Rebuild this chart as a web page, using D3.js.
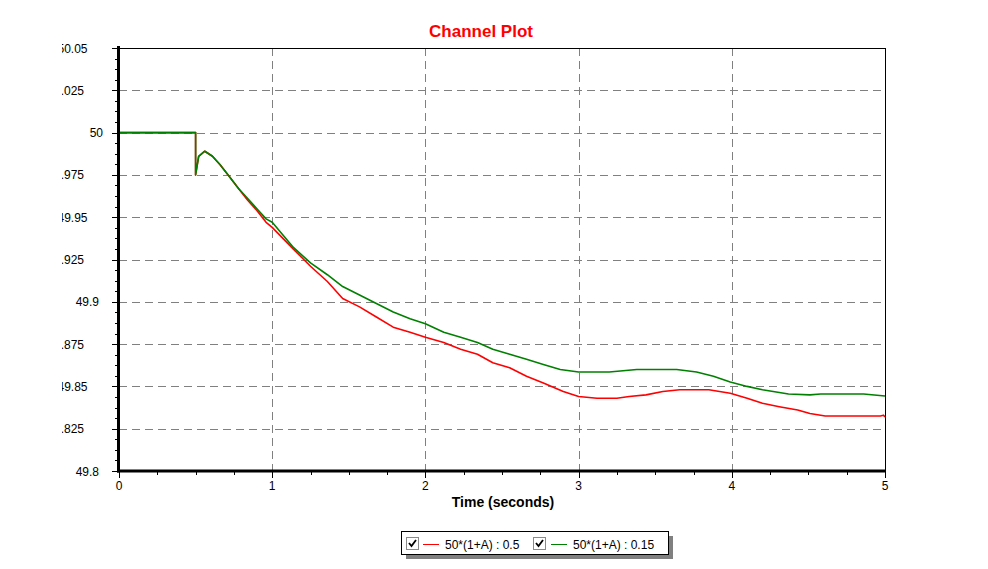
<!DOCTYPE html>
<html><head><meta charset="utf-8">
<script src="https://cdn.jsdelivr.net/npm/d3@7"></script>
<style>body{margin:0;background:#fff}svg{display:block;font-family:Arial,"Liberation Sans",sans-serif}</style>
</head><body>
<svg id="c" width="988" height="569"></svg>
<script>
const chartTitle = "Channel Plot";
const xAxisTitle = "Time (seconds)";
const seriesNames = ["50*(1+A) : 0.5", "50*(1+A) : 0.15"];
const seriesColors = ["#ff0000", "#008000"];

const redTime  = [0, 0.5, 0.5, 0.52, 0.56, 0.61, 0.66, 0.72, 0.78, 0.84, 0.90, 0.96, 1.0, 1.14, 1.25, 1.36, 1.46, 1.57, 1.68, 1.79, 1.90, 2.0, 2.12, 2.23, 2.34, 2.44, 2.55, 2.66, 2.77, 2.9, 3.0, 3.12, 3.25, 3.33, 3.44, 3.55, 3.66, 3.85, 3.99, 4.1, 4.2, 4.31, 4.43, 4.51, 4.61, 4.97, 4.99, 5.0];
const redValue = [50, 50, 49.975, 49.986, 49.989, 49.986, 49.981, 49.974, 49.967, 49.960, 49.954, 49.947, 49.944, 49.931, 49.921, 49.912, 49.902, 49.897, 49.891, 49.885, 49.882, 49.879, 49.876, 49.872, 49.869, 49.864, 49.861, 49.856, 49.852, 49.847, 49.844, 49.843, 49.843, 49.844, 49.845, 49.847, 49.848, 49.848, 49.846, 49.843, 49.840, 49.838, 49.836, 49.834, 49.8325, 49.8325, 49.833, 49.832];

const greenTime  = [0, 0.5, 0.5, 0.52, 0.56, 0.61, 0.66, 0.72, 0.78, 0.84, 0.90, 0.96, 1.0, 1.14, 1.25, 1.36, 1.46, 1.57, 1.68, 1.79, 1.90, 2.0, 2.12, 2.23, 2.34, 2.44, 2.55, 2.66, 2.77, 2.88, 3.0, 3.2, 3.38, 3.64, 3.77, 3.88, 3.99, 4.1, 4.2, 4.37, 4.51, 4.58, 4.86, 5.0];
const greenValue = [50, 50, 49.975, 49.986, 49.989, 49.986, 49.981, 49.974, 49.967, 49.961, 49.955, 49.949, 49.947, 49.932, 49.923, 49.916, 49.909, 49.904, 49.899, 49.894, 49.890, 49.887, 49.882, 49.879, 49.876, 49.872, 49.869, 49.866, 49.863, 49.860, 49.8585, 49.8585, 49.860, 49.860, 49.8585, 49.856, 49.8526, 49.850, 49.848, 49.8455, 49.845, 49.8455, 49.8455, 49.8443];

const xTicks = [0, 1, 2, 3, 4, 5];
const xGrid = [1, 2, 3, 4];
const yTicks = [49.8, 49.825, 49.85, 49.875, 49.9, 49.925, 49.95, 49.975, 50, 50.025, 50.05];
const yGrid = [49.825, 49.85, 49.875, 49.9, 49.925, 49.95, 49.975, 50, 50.025];

const svg = d3.select("#c");
const L = 119, R = 885, T = 48, B = 471;
const x = d3.scaleLinear().domain([0, 5]).range([L, R]);
const y = d3.scaleLinear().domain([49.8, 50.05]).range([B, T]);

// title
svg.append("text").attr("x", 481).attr("y", 37).attr("text-anchor", "middle")
  .attr("fill", "#ff0000").attr("font-weight", "bold").attr("font-size", 17).text(chartTitle);

// grid
svg.append("g").selectAll("line").data(xGrid).join("line")
  .attr("x1", d => Math.round(x(d)) + 0.5).attr("x2", d => Math.round(x(d)) + 0.5)
  .attr("y1", T).attr("y2", B).attr("stroke", "#808080").attr("stroke-dasharray", "8,5");
svg.append("g").selectAll("line").data(yGrid).join("line")
  .attr("y1", d => Math.round(y(d)) + 0.5).attr("y2", d => Math.round(y(d)) + 0.5)
  .attr("x1", L).attr("x2", R).attr("stroke", "#808080").attr("stroke-dasharray", "8,5");

// frame
svg.append("line").attr("x1", L).attr("x2", R + 0.5).attr("y1", T + 0.5).attr("y2", T + 0.5).attr("stroke", "#000");
svg.append("line").attr("x1", R + 0.5).attr("x2", R + 0.5).attr("y1", T).attr("y2", B).attr("stroke", "#000");

// data lines
svg.append("clipPath").attr("id", "pc").append("rect")
  .attr("x", L).attr("y", T).attr("width", R - L + 1).attr("height", B - T);
const line = d3.line().x(d => x(d[0])).y(d => y(d[1]));
const series = [
  { name: seriesNames[0], color: seriesColors[0], pts: d3.zip(redTime, redValue) },
  { name: seriesNames[1], color: seriesColors[1], pts: d3.zip(greenTime, greenValue) }
];
svg.append("g").attr("clip-path", "url(#pc)").selectAll("path").data(series).join("path")
  .attr("d", d => line(d.pts)).attr("fill", "none").attr("stroke", d => d.color)
  .attr("stroke-width", 1.6).attr("stroke-linejoin", "round");

// y minor ticks
const yMinor = d3.range(0, 41).map(i => 49.8 + i * 0.00625);
svg.append("g").selectAll("line").data(yMinor).join("line")
  .attr("x1", L - 4).attr("x2", L).attr("y1", d => Math.round(y(d)) + 0.5).attr("y2", d => Math.round(y(d)) + 0.5)
  .attr("stroke", "#000");
// y major ticks
svg.append("g").selectAll("line").data(yTicks).join("line")
  .attr("x1", L - 7).attr("x2", L).attr("y1", d => Math.round(y(d)) + 0.5).attr("y2", d => Math.round(y(d)) + 0.5)
  .attr("stroke", "#000");
// x minor ticks
const xMinor = d3.range(0, 21).map(i => i * 0.25);
svg.append("g").selectAll("line").data(xMinor).join("line")
  .attr("x1", d => Math.round(x(d)) + 0.5).attr("x2", d => Math.round(x(d)) + 0.5)
  .attr("y1", B).attr("y2", B + 4).attr("stroke", "#000");
svg.append("g").selectAll("line").data(xTicks).join("line")
  .attr("x1", d => Math.round(x(d)) + 0.5).attr("x2", d => Math.round(x(d)) + 0.5)
  .attr("y1", B).attr("y2", B + 7).attr("stroke", "#000");

// thick axes
svg.append("line").attr("x1", L - 0.5).attr("x2", L - 0.5).attr("y1", T - 2).attr("y2", B + 1.5)
  .attr("stroke", "#000").attr("stroke-width", 3);
svg.append("line").attr("x1", L - 2).attr("x2", R + 1).attr("y1", B).attr("y2", B)
  .attr("stroke", "#000").attr("stroke-width", 3);

// tick labels (left labels are clipped by the control edge, as in the original)
const fmt = v => String(+v.toFixed(3));
const rightEdge = { 2: 103, 3: 101, 4: 99, 5: 87.5, 6: 84 };
svg.append("clipPath").attr("id", "lc").append("rect").attr("x", 62).attr("y", 0).attr("width", 60).attr("height", 569);
svg.append("g").attr("clip-path", "url(#lc)").selectAll("text").data(yTicks).join("text")
  .attr("x", d => rightEdge[fmt(d).length]).attr("y", d => y(d) + 4.5)
  .attr("text-anchor", "end").attr("font-size", 12).attr("fill", "#000").text(fmt);
svg.append("g").selectAll("text").data(xTicks).join("text")
  .attr("x", d => x(d)).attr("y", 490).attr("text-anchor", "middle")
  .attr("font-size", 12).attr("fill", "#000").text(d => d);

// x axis title
svg.append("text").attr("x", 503).attr("y", 507).attr("text-anchor", "middle")
  .attr("font-weight", "bold").attr("font-size", 14).attr("fill", "#000").text(xAxisTitle);

// legend
const lg = svg.append("g");
lg.append("rect").attr("x", 406).attr("y", 536).attr("width", 267).attr("height", 23).attr("fill", "#808080");
lg.append("rect").attr("x", 401.5).attr("y", 531.5).attr("width", 267).attr("height", 23)
  .attr("fill", "#fff").attr("stroke", "#000");
const items = [
  { s: series[0], cb: 406, lx: 423, tx: 445 },
  { s: series[1], cb: 533, lx: 551, tx: 573 }
];
items.forEach(it => {
  lg.append("rect").attr("x", it.cb + 0.5).attr("y", 537.5).attr("width", 12).attr("height", 12)
    .attr("fill", "#fff").attr("stroke", "#8a8a8a");
  lg.append("path").attr("d", `M${it.cb + 3},${543} L${it.cb + 5.5},${546} L${it.cb + 10},${540}`)
    .attr("fill", "none").attr("stroke", "#000").attr("stroke-width", 1.8);
  lg.append("line").attr("x1", it.lx).attr("x2", it.lx + 16).attr("y1", 544.5).attr("y2", 544.5)
    .attr("stroke", it.s.color).attr("stroke-width", 1);
  lg.append("text").attr("x", it.tx).attr("y", 548.5).attr("font-size", 12).attr("fill", "#000").text(it.s.name);
});
</script>
</body></html>
